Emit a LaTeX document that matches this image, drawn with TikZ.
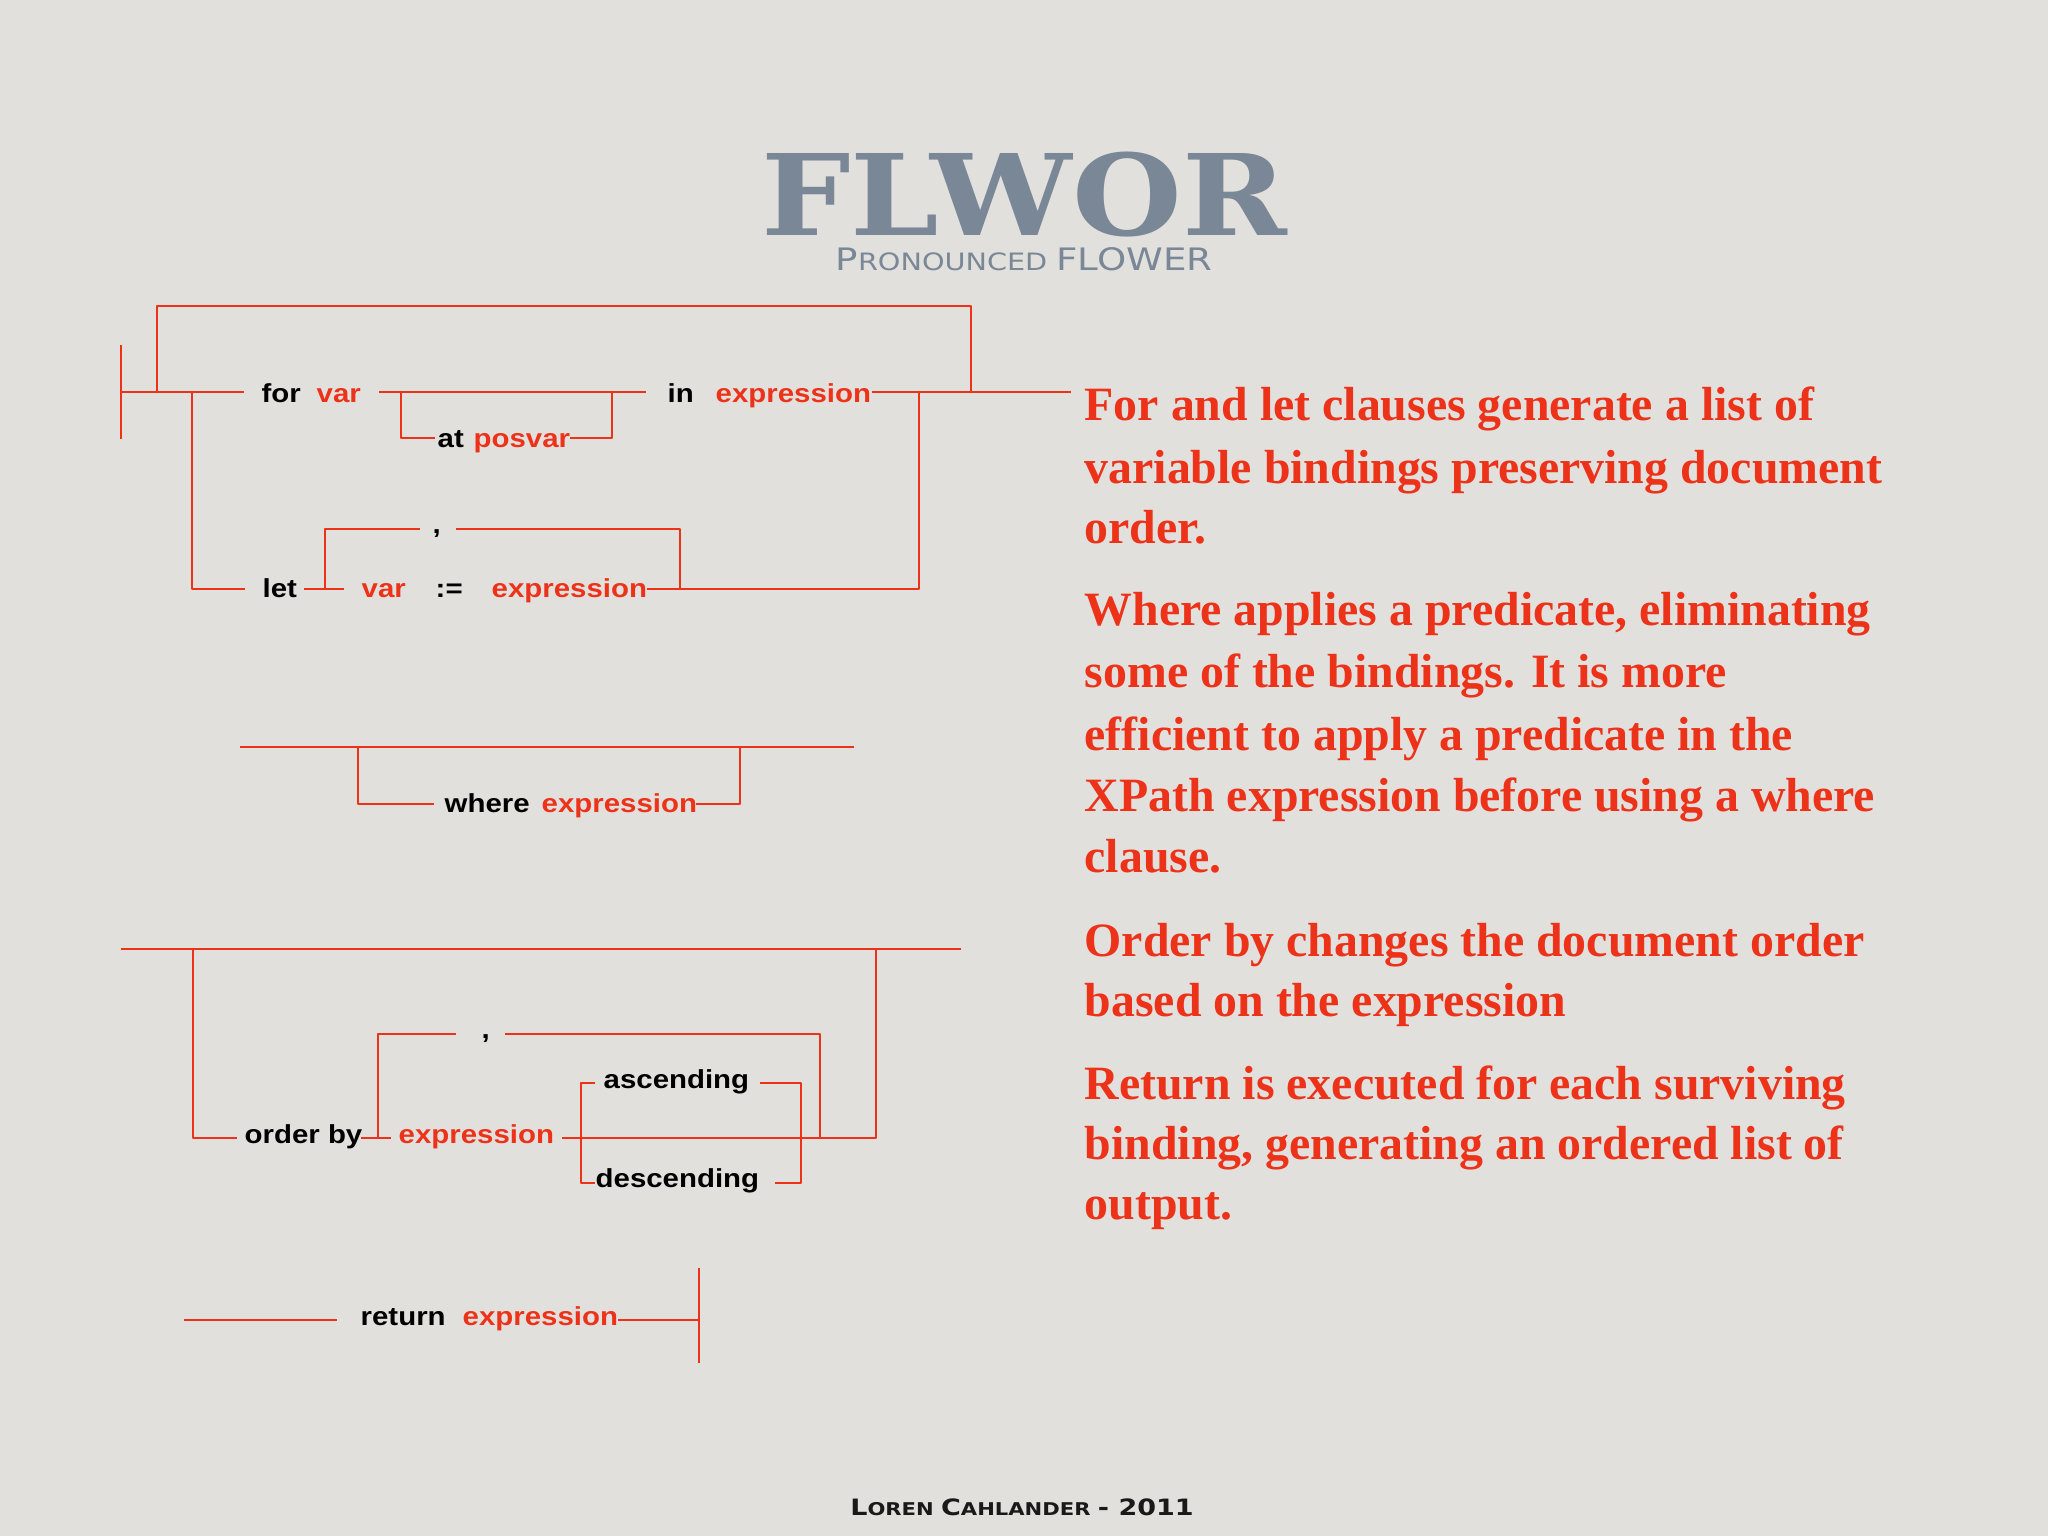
\documentclass[tikz,border=0pt]{standalone}
\usepackage{fontspec}
\setmainfont{Liberation Serif}
\newfontfamily\railfont[FakeStretch=1.13]{Liberation Sans}
\newfontfamily\capsfont[FakeStretch=1.12]{DejaVu Serif}
\newfontfamily\smcpfont[FakeStretch=1.2]{DejaVu Sans}
\definecolor{flred}{RGB}{237,50,26}
\definecolor{flslate}{RGB}{121,135,150}
\definecolor{paper}{RGB}{226,224,220}
\begin{document}
\begin{tikzpicture}[x=0.01cm, y=-0.01cm, line join=round,
	track/.style={draw=flred, line width=0.8pt},
	kw/.style={anchor=base west, inner sep=0pt, text=black, font=\railfont\bfseries\fontsize{7.4}{9}\selectfont},
	nt/.style={kw, text=flred},
	note/.style={anchor=base west, inner sep=0pt, text=flred, font=\bfseries\fontsize{13.6}{17}\selectfont}]
	\fill[paper] (0,0) rectangle (2048,1536);
	\useasboundingbox (0,0) rectangle (2048,1536);
	% heading and footer
	\node[anchor=base, inner sep=0pt, text depth=0pt, text=flslate, font=\capsfont\bfseries\fontsize{32}{32}\selectfont] (title) at (1024,235) {FLWOR};
	\node[anchor=base, inner sep=0pt, text height=6.5pt, text=flslate] (subtitle) at (1024,270)
		{\smcpfont\fontsize{8.8}{10}\selectfont P\fontsize{6.8}{8}\selectfont RONOUNCED \fontsize{8.8}{10}\selectfont FLOWER};
	\node[anchor=base, inner sep=0pt, text=black!90] (footer) at (1022,1515)
		{\smcpfont\bfseries\fontsize{6.4}{8}\selectfont L\fontsize{5}{6}\selectfont OREN \fontsize{6.4}{8}\selectfont C\fontsize{5}{6}\selectfont AHLANDER \fontsize{6.4}{8}\selectfont - 2011};
	% labels of the syntax diagrams
	\foreach \x/\y/\s/\t [count=\i] in {261/402/kw/for, 316/402/nt/var, 437/447/kw/at, 473/447/nt/posvar,
		667/402/kw/in, 715/402/nt/expression, 262/597/kw/let, 432/533/kw/{,}, 361/597/nt/var, 435/597/kw/{:=},
		491/597/nt/expression, 444/812/kw/where, 541/812/nt/expression, 244/1143/kw/order by,
		481/1038/kw/{,}, 398/1143/nt/expression, 603/1088/kw/ascending, 595/1187/kw/descending,
		360/1325/kw/return, 462/1325/nt/expression}
	\node[\s] (lbl\i) at (\x,\y) {\t};
	% for / let
	\path
	(121,345) coordinate (S1) (121,439) coordinate (S2) (121,392) coordinate (A)
	(244,392) coordinate (B) (379,392) coordinate (C) (646,392) coordinate (D)
	(872,392) coordinate (E) (1071,392) coordinate (F)
	(157,392) coordinate (L1) (157,306) coordinate (L2) (971,306) coordinate (L3) (971,392) coordinate (L4)
	(401,392) coordinate (P1) (401,438) coordinate (P2) (435,438) coordinate (P3)
	(570,438) coordinate (P4) (612,438) coordinate (P5) (612,392) coordinate (P6)
	(192,392) coordinate (T1) (192,589) coordinate (T2) (245,589) coordinate (T3)
	(304,589) coordinate (T4) (344,589) coordinate (T5)
	(325,589) coordinate (K1) (325,529) coordinate (K2) (420,529) coordinate (K3)
	(456,529) coordinate (K4) (680,529) coordinate (K5) (680,589) coordinate (K6)
	(647,589) coordinate (R1) (919,589) coordinate (R2) (919,392) coordinate (R3);
	\draw[track]
	(S1)--(S2) (A)--(B) (C)--(D) (E)--(F)
	(L1)--(L2)--(L3)--(L4)
	(P1)--(P2)--(P3) (P4)--(P5)--(P6)
	(T1)--(T2)--(T3) (T4)--(T5)
	(K1)--(K2)--(K3) (K4)--(K5)--(K6)
	(R1)--(R2)--(R3);
	% where
	\path
	(240,747) coordinate (W1) (854,747) coordinate (W2)
	(358,747) coordinate (W3) (358,804) coordinate (W4) (434,804) coordinate (W5)
	(696,804) coordinate (W6) (740,804) coordinate (W7) (740,747) coordinate (W8);
	\draw[track] (W1)--(W2) (W3)--(W4)--(W5) (W6)--(W7)--(W8);
	% order by
	\path
	(121,949) coordinate (O1) (961,949) coordinate (O2)
	(193,949) coordinate (O3) (193,1138) coordinate (O4) (237,1138) coordinate (O5)
	(361,1138) coordinate (O6) (391,1138) coordinate (O7)
	(378,1138) coordinate (C1) (378,1034) coordinate (C2) (456,1034) coordinate (C3)
	(505,1034) coordinate (C4) (820,1034) coordinate (C5) (820,1138) coordinate (C6)
	(562,1138) coordinate (M1) (876,1138) coordinate (M2) (876,949) coordinate (M3)
	(595,1083) coordinate (B1) (581,1083) coordinate (B2) (581,1183) coordinate (B3) (595,1183) coordinate (B4)
	(760,1083) coordinate (B5) (801,1083) coordinate (B6) (801,1183) coordinate (B7) (775,1183) coordinate (B8);
	\draw[track]
	(O1)--(O2) (O3)--(O4)--(O5) (O6)--(O7)
	(C1)--(C2)--(C3) (C4)--(C5)--(C6)
	(M1)--(M2)--(M3)
	(B1)--(B2)--(B3)--(B4) (B5)--(B6)--(B7)--(B8);
	% return
	\path
	(184,1320) coordinate (Q1) (337,1320) coordinate (Q2) (618,1320) coordinate (Q3)
	(699,1320) coordinate (Q4) (699,1268) coordinate (Q5) (699,1363) coordinate (Q6);
	\draw[track] (Q1)--(Q2) (Q3)--(Q4) (Q5)--(Q6);
	% explanations
	\foreach \y/\t [count=\i] in {420/{For and let clauses generate a list of},
		483/{variable bindings preserving document}, 543/{order.},
		625/{Where applies a predicate, eliminating}, 687/{some of the bindings.  It is more},
		750/{efficient to apply a predicate in the}, 811/{XPath expression before using a where},
		872/{clause.}, 956/{Order by changes the document order}, 1016/{based on the expression},
		1099/{Return is executed for each surviving}, 1159/{binding, generating an ordered list of},
		1219/{output.}}
	\node[note] (note\i) at (1084,\y) {\t};
\end{tikzpicture}
\end{document}
